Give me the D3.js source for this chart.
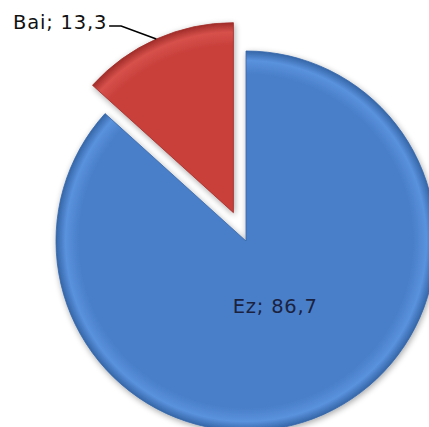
<!DOCTYPE html>
<html><head><meta charset="utf-8">
<script src="https://cdn.jsdelivr.net/npm/d3@7"></script>
<style>html,body{margin:0;padding:0;background:#fff;}</style>
</head><body>
<svg id="c" width="429" height="427"></svg>
<script>
const categories = ["Ez", "Bai"];
const values = [86.7, 13.3];
const labels = ["Ez; 86,7", "Bai; 13,3"];
const colors = ["#4a7fc9", "#c9403b"];
const lightColors = ["#5a92dd", "#d7514b"];
const darkColors = ["#3566a8", "#a02c29"];

const svg = d3.select("#c");
const cx = 246, cy = 241, r = 190, explode = 31;

const defs = svg.append("defs");
const f = defs.append("filter").attr("id","sh").attr("x","-20%").attr("y","-20%").attr("width","140%").attr("height","140%");
f.append("feGaussianBlur").attr("in","SourceAlpha").attr("stdDeviation",3);
f.append("feOffset").attr("dx",1).attr("dy",2).attr("result","b");
f.append("feComponentTransfer").append("feFuncA").attr("type","linear").attr("slope",0.35);
const fm = f.append("feMerge");
fm.append("feMergeNode");
fm.append("feMergeNode").attr("in","SourceGraphic");

categories.forEach((c,i)=>{
  const g = defs.append("radialGradient").attr("id","g"+i)
    .attr("gradientUnits","userSpaceOnUse").attr("cx",0).attr("cy",0).attr("r",r);
  g.append("stop").attr("offset","0%").attr("stop-color",colors[i]);
  g.append("stop").attr("offset","88%").attr("stop-color",colors[i]);
  g.append("stop").attr("offset","95%").attr("stop-color",lightColors[i]);
  g.append("stop").attr("offset","100%").attr("stop-color",darkColors[i]);
});

const data = categories.map((c,i)=>({cat:c, value:values[i], label:labels[i], i}));
const pie = d3.pie().value(d=>d.value).sort(null).startAngle(0).endAngle(2*Math.PI);
const arcs = pie(data);
const arc = d3.arc().innerRadius(0).outerRadius(r);

function offset(a, i){
  if (i !== 1) return [0,0];
  const m = (a.startAngle + a.endAngle)/2;
  return [Math.sin(m)*explode, -Math.cos(m)*explode];
}

const root = svg.append("g").attr("transform",`translate(${cx},${cy})`);
arcs.forEach((a,i)=>{
  const [dx,dy] = offset(a,i);
  const g = root.append("g").attr("transform",`translate(${dx},${dy})`);
  g.append("path").attr("d",arc(a)).attr("fill",`url(#g${i})`)
    .attr("stroke",darkColors[i]).attr("stroke-width",0.8).attr("filter","url(#sh)");
});

const font = "DejaVu Sans, Verdana, sans-serif";
// Ez label inside
const a0 = arcs[0];
const m0 = (a0.startAngle + a0.endAngle)/2;
root.append("text").attr("x",Math.sin(m0)*72).attr("y",-Math.cos(m0)*72)
  .attr("text-anchor","middle").attr("dominant-baseline","central")
  .attr("font-family",font).attr("font-size",19.5).attr("letter-spacing",0.8)
  .attr("fill","#1b2240").text(labels[0]);

// Bai label outside with leader
const a1 = arcs[1];
const m1 = (a1.startAngle + a1.endAngle)/2;
const [ox,oy] = offset(a1,1);
const px = ox + Math.sin(m1)*r, py = oy - Math.cos(m1)*r;
const labelX = 13 - cx, labelY = 22.5 - cy;
const t = root.append("text").attr("x",labelX).attr("y",labelY)
  .attr("dominant-baseline","central")
  .attr("font-family",font).attr("font-size",19.5).attr("letter-spacing",0.8)
  .attr("fill","#111").text(labels[1]);
const tw = t.node().getComputedTextLength();
const lx0 = labelX + tw + 2, ly0 = labelY + 3.5;
root.append("path").attr("d",`M${lx0},${ly0}L${lx0+12},${ly0}L${px},${py}`)
  .attr("fill","none").attr("stroke","#000").attr("stroke-width",1.6);
</script>
</body></html>
